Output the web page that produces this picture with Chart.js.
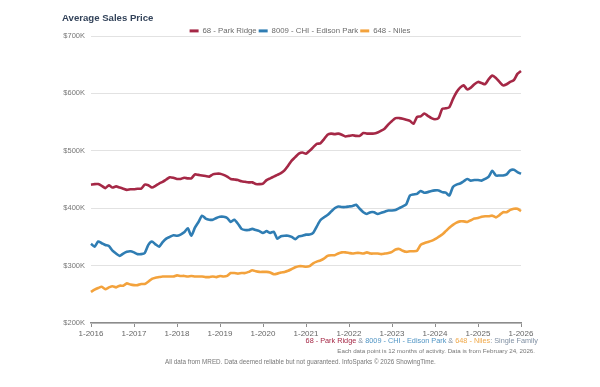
<!DOCTYPE html>
<html>
<head>
<meta charset="utf-8">
<script src="https://cdn.jsdelivr.net/npm/chart.js@4"></script>
<style>
  body { margin: 0; background: #fff; }
  #wrap { position: relative; width: 600px; height: 387px; font-family: "Liberation Sans", Arial, sans-serif; }
  #title { position: absolute; left: 62px; top: 12px; font-size: 9.6px; font-weight: bold; color: #33435a; }
  .foot { position: absolute; white-space: nowrap; color: #777; }
  #f1 { right: 62px; top: 336px; font-size: 7.3px; color: #8090a3; }
  #f2 { right: 65px; top: 347px; font-size: 6.2px; }
  #f3 { left: 165px; top: 358px; font-size: 6.3px; }
</style>
</head>
<body>
<div id="wrap">
  <canvas id="chart" width="600" height="387"></canvas>
  <div id="title">Average Sales Price</div>
  <div class="foot" id="f1"><span style="color:#a52846">68 - Park Ridge</span> &amp; <span style="color:#4f94c4">8009 - CHI - Edison Park</span> &amp; <span style="color:#f0a848">648 - Niles</span>: Single Family</div>
  <div class="foot" id="f2">Each data point is 12 months of activity. Data is from February 24, 2026.</div>
  <div class="foot" id="f3">All data from MRED. Data deemed reliable but not guaranteed. InfoSparks © 2026 ShowingTime.</div>
</div>
<script>
// monthly values, Jan 2016 .. Jan 2026, in $K
const startYear = 2016;
const endYear = 2026;

const parkRidge = [
  441, 442, 442, 439, 435, 440, 436, 438, 436, 434, 432, 433,
  433, 434, 434, 441, 440, 436, 439, 443, 446, 450, 454, 453,
  451, 451, 453, 452, 452, 459, 458, 457, 456, 455, 459, 460,
  460, 458, 455, 451, 450, 449, 447, 446, 445, 445, 442, 442,
  443, 449, 452, 455, 458, 461, 466, 474, 483, 489, 495, 497,
  495, 500, 506, 512, 513, 520, 528, 530, 529, 530, 528, 525,
  526, 527, 526, 526, 531, 530, 530, 530, 532, 535, 539, 546,
  552, 557, 557, 556, 554, 552, 547, 559, 560, 565, 561, 557,
  555, 557, 573, 574, 576, 590, 602, 610, 614, 607, 610, 616,
  620, 618, 616, 625, 631, 627, 620, 614, 616, 620, 623, 634,
  639
];

const edisonPark = [
  338, 333, 342, 339, 336, 334, 326, 321, 317, 321, 324, 325,
  323, 320, 320, 322, 336, 342, 337, 333, 341, 347, 350, 353,
  352, 354, 358, 365, 352, 366, 376, 387, 382, 380, 380, 383,
  385, 385, 383, 376, 380, 373, 364, 362, 362, 364, 362, 360,
  357, 360, 357, 359, 347, 351, 352, 352, 350, 346, 351, 352,
  354, 354, 357, 368, 379, 384, 388, 394, 400, 403, 402, 402,
  403, 404, 406, 399, 393, 390, 393, 393, 390, 392, 394, 396,
  396, 397, 400, 403, 407, 422, 424, 425, 430, 427, 428, 430,
  431, 431, 428, 427, 422, 437, 441, 443, 447, 451, 448, 449,
  449, 448, 451, 455, 465, 457, 457, 457, 459, 466, 467, 463,
  460
];

const niles = [
  254, 258, 261, 263, 259, 262, 264, 262, 265, 265, 269, 267,
  266, 266, 268, 268, 272, 277, 279, 280, 281, 281, 281, 281,
  283, 282, 282, 281, 282, 281, 281, 281, 280, 280, 281, 280,
  282, 281, 282, 287, 287, 286, 287, 287, 289, 292, 290, 289,
  289, 289, 288, 285, 286, 288, 289, 291, 294, 297, 299, 299,
  298, 299, 304, 307, 309, 312, 317, 318, 318, 321, 323, 323,
  322, 321, 322, 322, 321, 323, 321, 321, 321, 320, 321, 322,
  324, 328, 329, 326, 324, 325, 325, 326, 336, 339, 341, 343,
  346, 350, 354, 360, 366, 371, 375, 377, 377, 376, 379, 382,
  383, 385, 386, 386, 387, 384, 388, 393, 393, 397, 399, 399,
  395
];

const seriesNames = ["68 - Park Ridge", "8009 - CHI - Edison Park", "648 - Niles"];
const seriesColors = ["#a52846", "#2f7db3", "#f3a23c"];
const yTicks = [200, 300, 400, 500, 600, 700];

// month labels like "1-2016"
const labels = [];
for (let y = startYear; y <= endYear; y++) {
  for (let m = 1; m <= 12; m++) {
    if (y === endYear && m > 1) break;
    labels.push(m + "-" + y);
  }
}

const font = "'Liberation Sans', Arial, sans-serif";
const seriesData = [parkRidge, edisonPark, niles];

new Chart(document.getElementById("chart").getContext("2d"), {
  type: "line",
  data: {
    labels: labels,
    datasets: seriesData.map((d, i) => ({
      label: seriesNames[i],
      data: d,
      borderColor: seriesColors[i],
      backgroundColor: seriesColors[i],
      borderWidth: 2.6,
      pointRadius: 0,
      tension: 0.2,
      fill: false,
    })),
  },
  options: {
    responsive: false,
    animation: false,
    devicePixelRatio: 1,
    layout: { padding: { left: 0, right: 0, top: 25, bottom: 44 } },
    plugins: {
      tooltip: { enabled: false },
      legend: {
        position: "top",
        align: "center",
        maxHeight: 11,
        labels: {
          boxWidth: 9,
          boxHeight: 3,
          padding: 2,
          color: "#6b6b6b",
          font: { family: font, size: 7.8 },
          generateLabels: (chart) =>
            Chart.defaults.plugins.legend.labels.generateLabels(chart).map((it) => {
              it.lineWidth = 0;
              return it;
            }),
        },
      },
    },
    scales: {
      x: {
        grid: { drawOnChartArea: false, drawTicks: true, tickLength: 4, color: "#8c8c8c" },
        border: { display: true, color: "#8c8c8c", width: 1.5 },
        ticks: {
          autoSkip: false,
          maxRotation: 0,
          padding: 2,
          color: "#666",
          font: { family: font, size: 8 },
          callback: (v, i) => (i % 12 === 0 ? labels[i] : null),
        },
        afterFit: (s) => { s.height = 20; },
      },
      y: {
        min: yTicks[0],
        max: yTicks[yTicks.length - 1],
        afterBuildTicks: (s) => { s.ticks = yTicks.map((v) => ({ value: v })); },
        grid: { color: "#e2e2e2", drawTicks: false, lineWidth: 1 },
        border: { display: false },
        ticks: {
          padding: 6,
          color: "#777",
          font: { family: font, size: 7.5 },
          callback: (v) => "$" + v + "K",
        },
        afterFit: (s) => { s.width = 91; },
      },
      // empty right axis, only reserves the blank margin on the right
      yRight: {
        position: "right",
        grid: { display: false },
        border: { display: false },
        ticks: { display: false },
        afterFit: (s) => { s.width = 79; },
      },
    },
  },
});
</script>
</body>
</html>
